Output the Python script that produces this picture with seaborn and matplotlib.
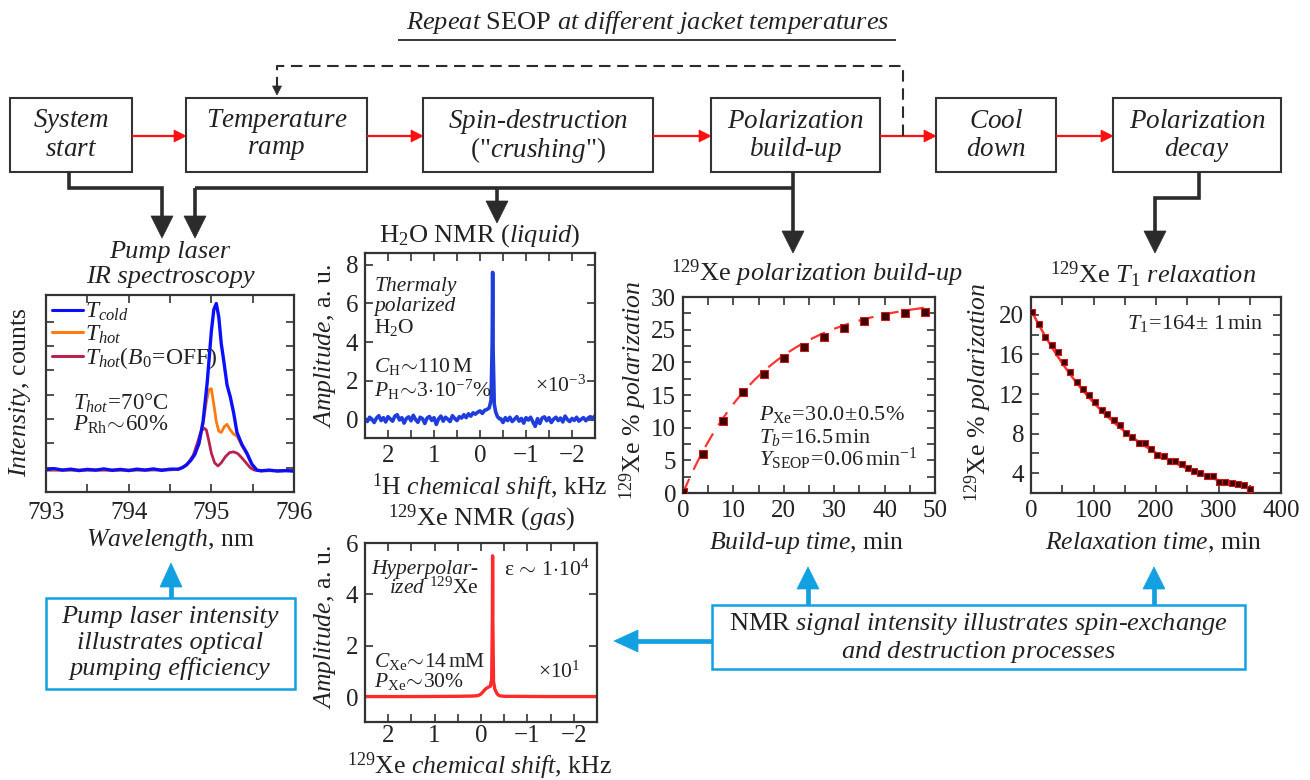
import numpy as np
import matplotlib
matplotlib.use("Agg")
import matplotlib.pyplot as plt
from matplotlib.patches import Rectangle, Polygon
from matplotlib.lines import Line2D
import seaborn as sns

# ---------------- data ----------------
# Pump-laser transmission spectra (wavelength in nm, intensity in arbitrary counts)
wl_cold = [793.0, 793.1, 793.2, 793.3, 793.4, 793.5, 793.6, 793.7, 793.8, 793.9, 794.0, 794.1,
           794.2, 794.3, 794.4, 794.5, 794.6, 794.65, 794.7, 794.75, 794.8, 794.85, 794.9, 794.95,
           795.0, 795.03, 795.06, 795.09, 795.12, 795.15, 795.19, 795.23, 795.27, 795.31, 795.37,
           795.43, 795.49, 795.55, 795.6, 795.7, 795.8, 795.9, 796.0]
int_cold = [-0.08, -0.04, -0.10, -0.06, -0.12, -0.07, -0.10, -0.05, -0.11, -0.07, -0.12, -0.06,
            -0.10, -0.05, -0.11, -0.06, -0.06, 0.0, 0.12, 0.30, 0.55, 1.0, 1.9, 3.5,
            5.6, 6.5, 6.75, 6.2, 5.1, 4.4, 3.4, 2.9, 2.25, 1.45, 0.95,
            0.6, 0.15, -0.10, -0.13, -0.10, -0.14, -0.12, -0.14]
wl_hot = [793.0, 793.5, 794.0, 794.5, 794.6, 794.7, 794.75, 794.8, 794.85, 794.9, 794.94, 794.97,
          795.0, 795.03, 795.06, 795.09, 795.12, 795.16, 795.19, 795.23, 795.27, 795.31, 795.37,
          795.43, 795.49, 795.55, 795.6, 796.0]
int_hot = [-0.10, -0.10, -0.10, -0.08, -0.07, 0.10, 0.28, 0.52, 0.95, 1.8, 2.7, 3.2,
           3.25, 2.6, 1.9, 1.5, 1.45, 1.7, 1.78, 1.55, 1.38, 1.3, 0.9,
           0.55, 0.12, -0.10, -0.13, -0.13]
wl_off = [793.0, 793.5, 794.0, 794.5, 794.6, 794.7, 794.78, 794.83, 794.87, 794.91, 794.94, 794.97,
          795.0, 795.04, 795.08, 795.12, 795.17, 795.22, 795.27, 795.32, 795.37, 795.42, 795.47,
          795.52, 795.6, 796.0]
int_off = [-0.10, -0.10, -0.10, -0.09, -0.07, 0.10, 0.50, 1.0, 1.45, 1.63, 1.55, 1.1,
           0.6, 0.2, 0.07, 0.2, 0.45, 0.62, 0.65, 0.58, 0.4, 0.2, 0.0,
           -0.10, -0.12, -0.12]

# 1H NMR of thermally polarized water (shift in kHz, amplitude x1e-3)
h2o_base_left = [0.05, -0.10, 0.12, 0.02, -0.15, 0.08, 0.20, -0.05, 0.10, -0.12,
                 0.15, 0.03, -0.08, 0.18, 0.25, -0.02, 0.10, -0.18, 0.06, 0.14,
                 -0.06, 0.22, 0.00, -0.14, 0.12, 0.05, -0.20, 0.08, 0.16, -0.04,
                 0.10, -0.25, 0.04, 0.18, -0.08, 0.12, 0.02, -0.10, 0.20, 0.06,
                 -0.05, 0.15, 0.08, 0.25, 0.10, 0.30, 0.18, 0.35, 0.28]
h2o_peak_shift = [0.05, 0.0, -0.05, -0.10, -0.15, -0.20, -0.24, -0.265, -0.275, -0.285,
                  -0.31, -0.34, -0.38, -0.42]
h2o_peak_amp = [0.38, 0.45, 0.32, 0.48, 0.52, 0.60, 1.0, 3.9, 7.6, 3.6,
                0.8, 0.40, 0.15, 0.05]
h2o_base_right = [0.05, -0.15, 0.10, -0.05, 0.12, -0.10, 0.02, 0.15, -0.08, 0.06,
                  -0.18, 0.10, -0.02, 0.12, -0.12, -0.35, 0.05, -0.20, 0.08, 0.14,
                  -0.06, 0.10, -0.15, 0.02, 0.12, -0.05, 0.08, -0.12, 0.18, 0.00,
                  -0.10, 0.06, -0.04, 0.12, -0.08, 0.02, 0.10, -0.06, 0.08, 0.15,
                  0.05, 0.20]

# 129Xe NMR of hyperpolarized gas (shift in kHz, amplitude x10)
xe_shift = [2.5, 1.5, 0.5, 0.2, 0.1, 0.05, 0.0, -0.05, -0.10, -0.15, -0.20, -0.23, -0.245,
            -0.25, -0.255, -0.27, -0.30, -0.35, -0.40, -0.50, -1.5, -2.5]
xe_amp = [0.02, 0.02, 0.03, 0.04, 0.05, 0.07, 0.12, 0.22, 0.32, 0.38, 0.42, 0.7, 3.0,
          5.5, 3.0, 0.6, 0.3, 0.12, 0.05, 0.03, 0.02, 0.02]

# 129Xe polarization build-up (min, %)
t_build = [0, 4, 8, 12, 16, 20, 24, 28, 32, 36, 40, 44, 48]
p_build = [0.2, 5.9, 11.0, 15.5, 18.2, 20.6, 22.4, 23.9, 25.3, 26.3, 27.1, 27.5, 27.7]
P_XE_MAX = 30.0   # %
T_BUILD = 16.5    # min

# 129Xe T1 relaxation (min, %)
t_relax = [1, 12, 23, 33, 43, 53, 63, 73, 83, 93, 103, 113, 122, 132, 142, 152, 162, 172,
           182, 192, 202, 212, 222, 231, 241, 251, 261, 271, 281, 291, 301, 311, 321, 331,
           341, 351]
p_relax = [20.3, 19.1, 17.8, 17.0, 16.2, 15.2, 14.2, 13.2, 12.55, 11.9, 11.2, 10.4, 10.0,
           9.35, 8.9, 8.1, 7.7, 7.1, 7.05, 6.45, 5.8, 5.75, 5.2, 5.2, 4.95, 4.5, 4.25, 4.0,
           3.75, 3.75, 3.1, 3.1, 3.0, 2.9, 2.8, 2.4]
P_RELAX_0 = 20.5  # %
T1_RELAX = 164    # min

# ---------------- style ----------------
W, H = 1310, 780
sns.set_theme(style="ticks")
plt.rcParams.update({
    "font.family": ["Liberation Serif", "DejaVu Serif"],
    "mathtext.fontset": "custom",
    "mathtext.rm": "Liberation Serif",
    "mathtext.it": "Liberation Serif:italic",
    "mathtext.bf": "Liberation Serif:bold",
    "mathtext.sf": "Liberation Serif",
    "text.color": "#222222",
    "axes.labelcolor": "#222222",
    "axes.edgecolor": "#333333",
    "xtick.color": "#333333",
    "ytick.color": "#333333",
    "xtick.labelcolor": "#222222",
    "ytick.labelcolor": "#222222",
})

INK = "#2b2b2b"
RED = "#ff1010"
CYAN = "#12a0e0"

fig = plt.figure(figsize=(W / 100, H / 100), dpi=100)
fig.patch.set_facecolor("white")

# full-figure canvas in pixel units for the flow chart
ov = fig.add_axes([0, 0, 1, 1])
ov.set_xlim(0, W)
ov.set_ylim(H, 0)
ov.axis("off")


def panel(l, t, r, b):
    return fig.add_axes([l / W, 1 - b / H, (r - l) / W, (b - t) / H])


def style_axes(ax):
    ax.tick_params(which="both", direction="in", top=True, right=True,
                   width=1.2, length=6, labelsize=18, pad=5)
    for s in ax.spines.values():
        s.set_linewidth(1.6)
        s.set_color("#333333")


def place_labels(ax, xlabel, xc, yc_x, ylabel, xc_y, yc, box, size=18.5):
    l, t, r, b = box
    ax.set_xlabel(xlabel, fontsize=size, va="center", ha="center")
    ax.xaxis.set_label_coords((xc - l) / (r - l), (b - yc_x) / (b - t))
    ax.set_ylabel(ylabel, fontsize=size, va="center", ha="center")
    ax.yaxis.set_label_coords((xc_y - l) / (r - l), (b - yc) / (b - t))


def txt(x, y, s, size=19, ha="center", va="center", **kw):
    ov.text(x, y, s, fontsize=size, ha=ha, va=va, **kw)


def head(x, y, direction, width, length, color):
    if direction == "down":
        pts = [(x - width / 2, y - length), (x + width / 2, y - length), (x, y)]
    elif direction == "up":
        pts = [(x - width / 2, y + length), (x + width / 2, y + length), (x, y)]
    elif direction == "right":
        pts = [(x - length, y - width / 2), (x - length, y + width / 2), (x, y)]
    else:
        pts = [(x + length, y - width / 2), (x + length, y + width / 2), (x, y)]
    ov.add_patch(Polygon(pts, closed=True, facecolor=color, edgecolor=color, lw=0.5))


def path(xs, ys, color, lw, **kw):
    ov.plot(xs, ys, color=color, lw=lw, solid_joinstyle="miter",
            solid_capstyle="butt", **kw)


# ---------------- flow chart ----------------
txt(648, 22, r"$\mathit{Repeat}$ SEOP $\mathit{at\ different\ jacket\ temperatures}$", size=19)
path([398, 896], [40, 40], INK, 1.3)

BOX_T, BOX_B = 98, 172
steps = [
    (10, 132, r"$\mathit{System}$", r"$\mathit{start}$"),
    (186, 367, r"$\mathit{Temperature}$", r"$\mathit{ramp}$"),
    (423, 653, r"$\mathit{Spin}$-$\mathit{destruction}$", r'("$\mathit{crushing}$")'),
    (711, 880, r"$\mathit{Polarization}$", r"$\mathit{build}$-$\mathit{up}$"),
    (936, 1056, r"$\mathit{Cool}$", r"$\mathit{down}$"),
    (1113, 1281, r"$\mathit{Polarization}$", r"$\mathit{decay}$"),
]
for l, r, line1, line2 in steps:
    ov.add_patch(Rectangle((l, BOX_T), r - l, BOX_B - BOX_T, facecolor="white",
                           edgecolor="#333333", lw=1.5, zorder=2))
    txt((l + r) / 2, 121, line1, size=19.5, zorder=3)
    txt((l + r) / 2, 150, line2, size=19.5, zorder=3)

# red process arrows
Y_FLOW = 136
for (l1, r1, _, _), (l2, r2, _, _) in zip(steps[:-1], steps[1:]):
    path([r1, l2 - 11], [Y_FLOW, Y_FLOW], RED, 1.6)
    head(l2, Y_FLOW, "right", 12, 12, RED)

# dashed repeat loop
ov.plot([903, 903, 277, 277], [Y_FLOW, 66, 66, 86], color=INK, lw=1.5,
        dashes=(5.5, 3.2))
head(277, 95, "down", 9, 9, INK)

# black measurement connectors
LWB = 2.6
path([69, 69, 162, 162], [BOX_B, 188, 188, 216], INK, LWB)
head(162, 238, "down", 22, 22, INK)
path([195, 195], [188, 216], INK, LWB)
path([195, 793], [188, 188], INK, LWB)
head(195, 238, "down", 22, 22, INK)
path([497, 497], [188, 201], INK, LWB)
head(497, 223, "down", 22, 22, INK)
path([793, 793], [BOX_B, 231], INK, LWB)
head(793, 253, "down", 22, 22, INK)
path([1199, 1199, 1155, 1155], [BOX_B, 198, 198, 231], INK, LWB)
head(1155, 253, "down", 22, 22, INK)

# ---------------- pump laser IR spectroscopy ----------------
box_ir = (46, 295, 294, 492)
ax = panel(*box_ir)
sns.lineplot(x=wl_off, y=int_off, ax=ax, color="#b8234e", lw=2.0, estimator=None)
sns.lineplot(x=wl_hot, y=int_hot, ax=ax, color="#ff7a12", lw=2.0, estimator=None)
sns.lineplot(x=wl_cold, y=int_cold, ax=ax, color="#0a10ff", lw=2.4, estimator=None)
ax.set_xlim(793, 796)
ax.set_ylim(-1.0, 7.1)
ax.set_xticks([793, 794, 795, 796])
ax.set_xticks(np.arange(793, 796.01, 0.5), minor=True)
ax.set_yticks(np.arange(0, 7))
ax.set_yticklabels([])
style_axes(ax)
ax.tick_params(axis="x", pad=7)
handles = [Line2D([], [], color="#0a10ff", lw=2.2),
           Line2D([], [], color="#ff7a12", lw=2.2),
           Line2D([], [], color="#b8234e", lw=2.2)]
ax.legend(handles, [r"$T_{cold}$", r"$T_{hot}$", r"$T_{hot}(B_0\!=\!\mathrm{OFF})$"],
          loc="upper left", frameon=False, fontsize=17, handlelength=1.3,
          handletextpad=0.1, labelspacing=0.0, borderaxespad=0.1, borderpad=0.15)
ax.text(0.11, 0.45, r"$T_{hot}\!=\!70\degree\mathrm{C}$", transform=ax.transAxes,
        fontsize=16.5, ha="left", va="center")
ax.text(0.11, 0.34, r"$P_{\mathrm{Rh}}\!\sim\!60\%$", transform=ax.transAxes,
        fontsize=16.5, ha="left", va="center")
place_labels(ax, r"$\mathit{Wavelength}$, nm", 170, 540,
             r"$\mathit{Intensity}$, counts", 20, 392, box_ir)
txt(170, 252, "Pump laser", size=19, style="italic")
txt(170, 277, "IR spectroscopy", size=19, style="italic")

# ---------------- H2O NMR ----------------
box_h = (365, 253, 595, 438)
ax = panel(*box_h)
h2o_shift = np.concatenate([np.linspace(2.5, 0.1, len(h2o_base_left)),
                            h2o_peak_shift,
                            np.linspace(-0.45, -2.5, len(h2o_base_right))])
h2o_amp = np.concatenate([h2o_base_left, h2o_peak_amp, h2o_base_right])
sns.lineplot(x=h2o_shift, y=h2o_amp, ax=ax, color="#1e3ddc", lw=2.6, estimator=None)
ax.set_xlim(2.5, -2.5)
ax.set_ylim(-0.95, 8.6)
ax.set_xticks([2, 1, 0, -1, -2])
ax.set_xticks(np.arange(-2.5, 2.51, 0.5), minor=True)
ax.set_yticks([0, 2, 4, 6, 8])
style_axes(ax)
ax.text(0.04, 0.82, "Thermaly", transform=ax.transAxes, fontsize=15.5, style="italic",
        ha="left", va="center")
ax.text(0.04, 0.71, "polarized", transform=ax.transAxes, fontsize=15.5, style="italic",
        ha="left", va="center")
ax.text(0.04, 0.595, r"H$_2$O", transform=ax.transAxes, fontsize=15.5, ha="left", va="center")
ax.text(0.04, 0.385, r"$C_{\mathrm{H}}\!\sim\!110\,\mathrm{M}$", transform=ax.transAxes,
        fontsize=15.5, ha="left", va="center")
ax.text(0.04, 0.26, r"$P_{\mathrm{H}}\!\sim\!3\!\cdot\!10^{-7}\%$", transform=ax.transAxes,
        fontsize=15.5, ha="left", va="center")
ax.text(0.96, 0.28, r"$\times10^{-3}$", transform=ax.transAxes, fontsize=15.5,
        ha="right", va="center")
place_labels(ax, r"$^{1}$H $\mathit{chemical\ shift}$, kHz", 490, 487,
             r"$\mathit{Amplitude}$, a. u.", 325, 346, box_h)
txt(480, 236, r"H$_2$O NMR ($\mathit{liquid}$)", size=19)

# ---------------- 129Xe NMR ----------------
box_x = (365, 543, 597, 722)
ax = panel(*box_x)
sns.lineplot(x=xe_shift, y=xe_amp, ax=ax, color="#ff2a2a", lw=2.4, estimator=None)
ax.set_xlim(2.5, -2.5)
ax.set_ylim(-0.97, 6.0)
ax.set_xticks([2, 1, 0, -1, -2])
ax.set_xticks(np.arange(-2.5, 2.51, 0.5), minor=True)
ax.set_yticks([0, 2, 4, 6])
style_axes(ax)
ax.tick_params(axis="x", pad=2)
ax.text(0.49, 0.85, "Hyperpolar-", transform=ax.transAxes, fontsize=15.5, style="italic",
        ha="right", va="center")
ax.text(0.49, 0.745, r"$\mathit{ized}$ $^{129}$Xe", transform=ax.transAxes, fontsize=15.5,
        ha="right", va="center")
ax.text(0.60, 0.85, r"ε$\,\sim\,1\!\cdot\!10^{4}$", transform=ax.transAxes, fontsize=15.5,
        ha="left", va="center")
ax.text(0.04, 0.34, r"$C_{\mathrm{Xe}}\!\sim\!14\,\mathrm{mM}$", transform=ax.transAxes,
        fontsize=15.5, ha="left", va="center")
ax.text(0.04, 0.225, r"$P_{\mathrm{Xe}}\!\sim\!30\%$", transform=ax.transAxes,
        fontsize=15.5, ha="left", va="center")
ax.text(0.93, 0.28, r"$\times10^{1}$", transform=ax.transAxes, fontsize=15.5,
        ha="right", va="center")
place_labels(ax, r"$^{129}$Xe $\mathit{chemical\ shift}$, kHz", 479, 766,
             r"$\mathit{Amplitude}$, a. u.", 325, 627, box_x)
txt(482, 518, r"$^{129}$Xe NMR ($\mathit{gas}$)", size=19)

# ---------------- polarization build-up ----------------
box_b = (683, 297, 935, 493)
ax = panel(*box_b)
t_fit = np.linspace(0, max(t_build), 200)
sns.lineplot(x=t_fit, y=P_XE_MAX * (1 - np.exp(-t_fit / T_BUILD)), ax=ax,
             color="#ff3535", lw=1.6, estimator=None)
ax.lines[-1].set_dashes((7, 4.5))
sns.scatterplot(x=t_build, y=p_build, ax=ax, marker="s", s=26, color="#3c0606",
                edgecolor="#d01818", linewidth=0.8, zorder=3)
ax.set_xlim(0, 50)
ax.set_ylim(0, 30)
ax.set_xticks(np.arange(0, 51, 10))
ax.set_xticks(np.arange(0, 51, 5), minor=True)
ax.set_yticks(np.arange(0, 31, 5))
ax.set_yticks(np.arange(0, 31, 2.5), minor=True)
style_axes(ax)
ax.text(0.30, 0.40, r"$P_{\mathrm{Xe}}\!=\!30.0\!\pm\!0.5\%$", transform=ax.transAxes,
        fontsize=16, ha="left", va="center")
ax.text(0.30, 0.285, r"$T_b\!=\!16.5\,\mathrm{min}$", transform=ax.transAxes,
        fontsize=16, ha="left", va="center")
ax.text(0.30, 0.175, r"$Y_{\mathrm{SEOP}}\!=\!0.06\,\mathrm{min}^{-1}$", transform=ax.transAxes,
        fontsize=16, ha="left", va="center")
place_labels(ax, r"$\mathit{Build}$-$\mathit{up\ time}$, min", 807, 543,
             r"$^{129}$Xe % $\mathit{polarization}$", 633, 390, box_b)
txt(817, 273, r"$^{129}$Xe $\mathit{polarization\ build}$-$\mathit{up}$", size=19)

# ---------------- T1 relaxation ----------------
box_t = (1031, 297, 1281, 493)
ax = panel(*box_t)
t_fit = np.linspace(0, max(t_relax), 200)
sns.lineplot(x=t_fit, y=P_RELAX_0 * np.exp(-t_fit / T1_RELAX), ax=ax,
             color="#ff3535", lw=1.8, estimator=None)
sns.scatterplot(x=t_relax, y=p_relax, ax=ax, marker="s", s=20, color="#3c0606",
                edgecolor="#d01818", linewidth=0.8, zorder=3)
ax.set_xlim(0, 400)
ax.set_ylim(2, 21.8)
ax.set_xticks(np.arange(0, 401, 100))
ax.set_xticks(np.arange(0, 401, 50), minor=True)
ax.set_yticks([4, 8, 12, 16, 20])
ax.set_yticks(np.arange(2, 22, 2), minor=True)
style_axes(ax)
ax.text(0.93, 0.865, r"$T_1\!=\!164\!\pm\,1\,\mathrm{min}$", transform=ax.transAxes,
        fontsize=16, ha="right", va="center")
place_labels(ax, r"$\mathit{Relaxation\ time}$, min", 1153, 543,
             r"$^{129}$Xe % $\mathit{polarization}$", 978, 392, box_t)
txt(1153, 275, r"$^{129}$Xe $T_1$ $\mathit{relaxation}$", size=19)

# ---------------- interpretation call-outs ----------------
ov.add_patch(Rectangle((46, 598), 249, 91, facecolor="white", edgecolor=CYAN, lw=1.8))
txt(170, 617, "Pump laser intensity", size=19, style="italic")
txt(170, 643, "illustrates optical", size=19, style="italic")
txt(170, 669, "pumping efficiency", size=19, style="italic")
path([171, 171], [598, 586], CYAN, 3.4)
head(171, 563, "up", 22, 24, CYAN)

ov.add_patch(Rectangle((712, 605), 533, 64, facecolor="white", edgecolor=CYAN, lw=1.8))
txt(978, 624, r"NMR $\mathit{signal\ intensity\ illustrates\ spin}$-$\mathit{exchange}$", size=19)
txt(978, 652, r"$\mathit{and\ destruction\ processes}$", size=19)
for xa in (808, 1154):
    path([xa, xa], [605, 588], CYAN, 3.4)
    head(xa, 567, "up", 22, 22, CYAN)
path([712, 637], [641, 641], CYAN, 3.4)
head(614, 641, "left", 22, 24, CYAN)

fig.savefig("out.png", dpi=100, facecolor="white")
